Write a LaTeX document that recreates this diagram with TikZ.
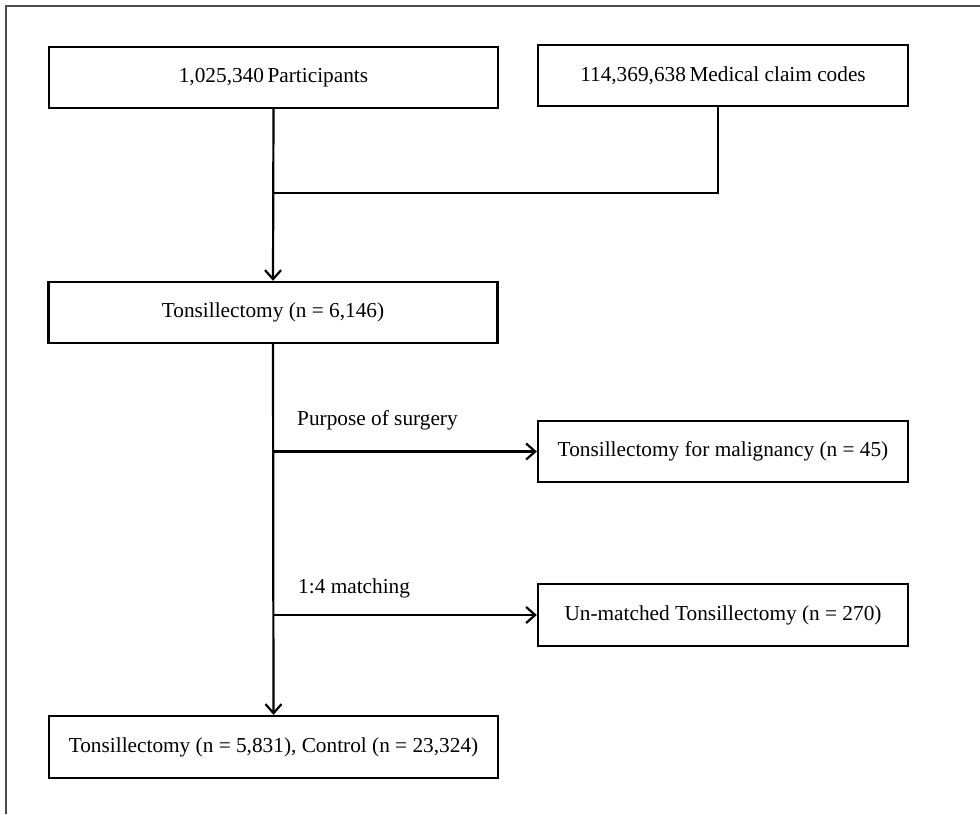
\documentclass[tikz,border=0pt]{standalone}
\usepackage{fontspec}
\setmainfont{Liberation Serif}
\usetikzlibrary{arrows.meta}
\begin{document}
\begin{tikzpicture}[x=1pt,y=-1pt,
  box/.style={draw=black,line width=2.4pt,rectangle,inner sep=0pt,align=center,
    font=\fontsize{21.3}{25}\selectfont},
  leftbox/.style={box,minimum width=449pt,minimum height=61pt},
  rightbox/.style={box,minimum width=370pt,minimum height=61pt},
  conn/.style={draw=black,line width=2.2pt},
  arr/.style={conn,-{Straight Barb[length=9pt,width=16pt,line width=2.2pt]}},
  lbl/.style={anchor=west,inner sep=0pt,font=\fontsize{21.3}{25}\selectfont}]
\useasboundingbox (0,0) rectangle (980,814);
\draw[line width=1.4pt,draw=black!70] (6,814) -- (6,6) -- (980,6);

\node[leftbox] (b1) at (273.5,77.5) {1,025,340\,Participants};
\node[rightbox] (b2) at (723,75.5) {114,369,638\,Medical claim codes};
\node[leftbox] (b3) at (273,312.5) {Tonsillectomy (n = 6,146)};
\node[rightbox] (b4) at (723,451.5) {Tonsillectomy for malignancy (n = 45)};
\node[rightbox,minimum height=62pt] (b5) at (723,615) {Un-matched Tonsillectomy (n = 270)};
\node[leftbox,minimum height=62pt] (b6) at (273.5,747) {Tonsillectomy (n = 5,831), Control (n = 23,324)};

\coordinate (j1) at (273.5,193);
\coordinate (k1) at (273.5,451.5);
\coordinate (k2) at (273.5,615);

\draw[arr] (b1.south) -- (b3.north);
\draw[conn] ([xshift=-5pt]b2.south) |- (j1);
\draw[arr] (b3.south) -- (b6.north);
\draw[arr] (k1) -- (b4.west);
\draw[arr] (k2) -- (b5.west);

\node[lbl] (l1) at (297,420) {Purpose of surgery};
\node[lbl] (l2) at (298,588) {1:4 matching};
\end{tikzpicture}
\end{document}
